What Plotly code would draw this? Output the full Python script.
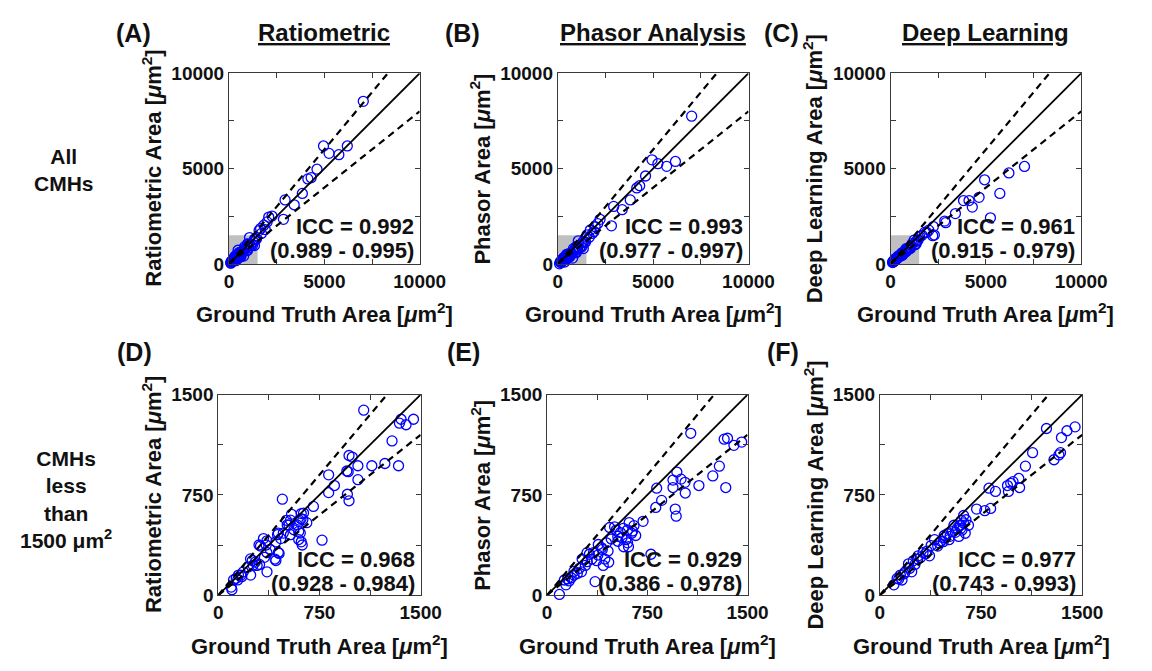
import plotly.graph_objects as go

# ---------------- data ----------------
# Bottom row: CMHs smaller than 1500 um^2
gt_low_ratio = [101, 96, 113, 133, 144, 150, 168, 174, 186, 222, 240, 239, 252, 258, 275, 288, 306, 302, 313, 335,
                342, 355, 360, 361, 361, 384, 420, 427, 427, 439, 445, 445, 451, 463, 475, 482, 505, 511, 524, 535,
                535, 543, 560, 584, 596, 596, 600, 608, 613, 615, 615, 622, 627, 632, 656, 705, 769, 818, 818, 861,
                953, 957, 963, 969, 969, 993, 1035, 1035, 1078, 1138, 1235, 1288, 1336, 1343, 1355, 1392, 1447]
ratio_low = [41, 60, 114, 126, 114, 150, 150, 138, 174, 210, 150, 271, 259, 223, 247, 222, 230, 375, 367, 423,
             283, 375, 319, 174, 406, 343, 270, 259, 399, 452, 319, 464, 312, 423, 718, 464, 560, 525, 524, 452,
             561, 605, 489, 525, 477, 416, 561, 464, 572, 399, 610, 375, 566, 614, 542, 664, 411, 767, 900, 820,
             929, 755, 924, 706, 1045, 1033, 968, 864, 1384, 968, 985, 1154, 968, 1287, 1316, 1275, 1316]

gt_low_phasor = [92, 129, 141, 153, 165, 201, 201, 226, 257, 262, 286, 299, 316, 335, 347, 359, 371, 383, 408, 413,
                 420, 432, 444, 456, 461, 468, 505, 517, 529, 529, 549, 573, 590, 602, 602, 609, 614, 633, 663, 718,
                 777, 813, 820, 857, 942, 942, 959, 966, 971, 1002, 1032, 1034, 1075, 1136, 1240, 1289, 1325, 1337,
                 1350, 1398, 1456, 480, 560, 640, 650, 570, 380, 300, 240, 180]
phasor_low = [5, 113, 77, 121, 106, 150, 178, 162, 174, 270, 222, 318, 306, 270, 318, 101, 258, 379, 354, 342,
              222, 270, 391, 330, 246, 506, 511, 487, 439, 403, 468, 362, 415, 487, 391, 362, 543, 463, 446, 552,
              306, 656, 800, 709, 805, 861, 644, 591, 921, 868, 844, 764, 1211, 820, 892, 965, 1167, 805,
              1174, 1121, 1145, 420, 430, 480, 520, 500, 300, 250, 200, 130]

gt_low_deep = [104, 128, 152, 164, 188, 212, 236, 248, 284, 320, 368, 380, 405, 429, 453, 477, 513, 537, 585, 597,
               604, 609, 621, 633, 638, 657, 717, 778, 809, 821, 857, 946, 953, 970, 987, 1030, 1036, 1079, 1132,
               1235, 1291, 1327, 1339, 1346, 1387, 1447, 549, 520, 470, 560, 575, 590, 300, 340, 260, 440,
               600, 620, 480, 500, 350, 280, 220, 180, 140]
deep_low = [77, 125, 150, 113, 174, 234, 174, 258, 294, 318, 294, 371, 415, 367, 403, 446, 415, 475, 439, 523,
            559, 487, 596, 463, 564, 523, 644, 632, 800, 649, 776, 820, 776, 837, 849, 873, 805, 965, 1066,
            1247, 1013, 1049, 1066, 1179, 1230, 1259, 523, 440, 400, 470, 500, 520, 280, 310, 230, 390,
            500, 540, 430, 460, 330, 270, 200, 160, 120]

# Top row: the extra large CMHs (above 1500 um^2)
gt_high_ratio = [7043, 4957, 5248, 5761, 6205, 4615, 4308, 4137, 3846, 2940, 3419, 2855, 2256, 2085, 2000, 1829,
                 1658, 1580, 1700, 1900]
ratio_high = [8525, 6186, 5797, 5729, 6186, 4966, 4525, 4458, 3695, 3356, 3102, 2339, 2508, 2458, 2203, 2034,
              1864, 1750, 1600, 1800]
gt_high_phasor = [7019, 4940, 5247, 5707, 6167, 4600, 4293, 4140, 3799, 2930, 3373, 2811, 2215, 2095, 1959, 1704,
                  1823, 1533, 1650, 1900]
phasor_high = [7746, 5458, 5254, 5119, 5373, 4610, 4102, 3983, 3356, 3017, 2847, 2000, 2339, 2119, 1949, 1780,
               1610, 1525, 1400, 1700]
gt_high_deep = [7024, 6207, 4932, 5731, 4643, 3827, 4116, 4286, 3401, 5238, 2891, 2840, 2245, 2211, 1786, 2007,
                2296, 1531, 1650, 1900]
deep_high = [5111, 4770, 4412, 3697, 3492, 3322, 3322, 2981, 2641, 2419, 2164, 2249, 1959, 1482, 1652, 1772,
             1516, 1431, 1500, 1650]

icc_values = ["0.992", "0.993", "0.961", "0.968", "0.929", "0.977"]
icc_ci = ["(0.989 - 0.995)", "(0.977 - 0.997)", "(0.915 - 0.979)",
          "(0.928 - 0.984)", "(0.386 - 0.978)", "(0.743 - 0.993)"]

method_names = ["Ratiometric", "Phasor Analysis", "Deep Learning"]
y_title_names = ["Ratiometric", "Phasor", "Deep Learning"]
panel_letters = ["(A)", "(B)", "(C)", "(D)", "(E)", "(F)"]

top_limit = 10000
top_label_ticks = [0, 5000, 10000]
top_minor_step = 2500
bottom_limit = 1500
bottom_label_ticks = [0, 750, 1500]
bottom_minor_step = 375
agreement_slopes = [1.2, 0.8]
zoom_box = 1500

# ---------------- layout helpers ----------------
OFF = 8                      # default page margin of the html body
W, H = 1152 - OFF, 671 - OFF
FONT = "Liberation Sans, Arial, sans-serif"
TXT = "#111111"
AX = "#3a3a3a"


def px(x):
    return (x - OFF) / W


def py(y):
    return 1 - (y - OFF) / H


def bold_font(size):
    return dict(family=FONT, size=size, color=TXT, weight="bold")


# pixel boxes on the screen (left, right, top, bottom)
boxes = [(230, 426, 65, 262), (568, 764, 65, 262), (910, 1106, 65, 262),
         (219, 427, 397, 604), (557, 763, 397, 604), (899, 1107, 397, 604)]

panel_x = [gt_low_ratio + gt_high_ratio, gt_low_phasor + gt_high_phasor, gt_low_deep + gt_high_deep,
           gt_low_ratio, gt_low_phasor, gt_low_deep]
panel_y = [ratio_low + ratio_high, phasor_low + phasor_high, deep_low + deep_high,
           ratio_low, phasor_low, deep_low]

fig = go.Figure()
annotations = []
shapes = []
unit = "[<i>μ</i>m<sup>2</sup>]"

for i in range(6):
    top = i < 3
    lim = top_limit if top else bottom_limit
    ticks = top_label_ticks if top else bottom_label_ticks
    minor_step = top_minor_step if top else bottom_minor_step
    xa = "x" if i == 0 else f"x{i + 1}"
    ya = "y" if i == 0 else f"y{i + 1}"
    l, r, t, b = boxes[i]

    axis_common = dict(range=[0, lim], tickmode="array", tickvals=ticks, ticktext=[str(v) for v in ticks],
                       ticks="inside", ticklen=5, tickcolor=AX, tickwidth=1,
                       minor=dict(ticks="inside", ticklen=5, tickcolor=AX, tickwidth=1,
                                  tickmode="linear", tick0=0, dtick=minor_step),
                       showline=True, linecolor=AX, linewidth=1, mirror="ticks",
                       showgrid=False, zeroline=False, fixedrange=True,
                       tickfont=bold_font(19))
    fig.layout[("xaxis" if i == 0 else f"xaxis{i + 1}")] = dict(domain=[px(l), px(r)], anchor=ya, **axis_common)
    fig.layout[("yaxis" if i == 0 else f"yaxis{i + 1}")] = dict(domain=[py(b), py(t)], anchor=xa, **axis_common)

    if top:
        shapes.append(dict(type="rect", xref=xa, yref=ya, x0=0, y0=0, x1=zoom_box, y1=zoom_box,
                           fillcolor="#c0c0c0", line=dict(width=0), layer="below"))

    # scatter
    fig.add_trace(go.Scatter(x=panel_x[i], y=panel_y[i], mode="markers", xaxis=xa, yaxis=ya,
                             marker=dict(symbol="circle-open", size=10, color="#0000ff", line=dict(width=1.3)),
                             cliponaxis=False, showlegend=False, hoverinfo="skip"))
    # identity line
    fig.add_trace(go.Scatter(x=[0, lim], y=[0, lim], mode="lines", xaxis=xa, yaxis=ya,
                             line=dict(color="black", width=1.8), showlegend=False, hoverinfo="skip"))
    # agreement lines
    for s in agreement_slopes:
        xe = lim / s if s > 1 else lim
        fig.add_trace(go.Scatter(x=[0, xe], y=[0, xe * s], mode="lines", xaxis=xa, yaxis=ya,
                                 line=dict(color="black", width=2.2, dash="7px,5px"),
                                 showlegend=False, hoverinfo="skip"))

    # ICC text
    bh = b - t
    y1 = b - (0.195 if top else 0.179) * bh
    y2 = b - (0.068 if top else 0.058) * bh
    annotations.append(dict(x=px(r - 4), y=py(y1), xref="paper", yref="paper", xanchor="right", yanchor="middle",
                            text=f"ICC = {icc_values[i]}", showarrow=False, font=bold_font(22)))
    annotations.append(dict(x=px(r - 4), y=py(y2), xref="paper", yref="paper", xanchor="right", yanchor="middle",
                            text=icc_ci[i], showarrow=False, font=bold_font(22)))

    # axis titles
    xt_y = b + 51
    annotations.append(dict(x=px((l + r) / 2), y=py(xt_y), xref="paper", yref="paper", xanchor="center",
                            yanchor="middle", text=f"Ground Truth Area {unit}", showarrow=False,
                            font=bold_font(22)))
    yt_x = l - (80 if top else 68)
    annotations.append(dict(x=px(yt_x), y=py((t + b) / 2), xref="paper", yref="paper", xanchor="center",
                            yanchor="middle", textangle=-90,
                            text=f"{y_title_names[i % 3]} Area {unit}", showarrow=False,
                            font=bold_font(22)))

    # panel letter, up-left of the y title (further left when the title is long)
    shift = 32 if i % 3 == 2 else 18
    annotations.append(dict(x=px(yt_x - shift), y=py(23 if top else 353), xref="paper", yref="paper",
                            xanchor="center", yanchor="middle", text=panel_letters[i],
                            showarrow=False, font=bold_font(25)))

# column headers
for name, box in zip(method_names, boxes[:3]):
    annotations.append(dict(x=px((box[0] + box[1]) / 2), y=py(23), xref="paper", yref="paper", xanchor="center",
                            yanchor="middle", text=f"<u>{name}</u>", showarrow=False, font=bold_font(24)))

# row labels
annotations.append(dict(x=px(60), y=py(165), xref="paper", yref="paper", xanchor="center", yanchor="middle",
                        text="All<br>CMHs", showarrow=False, font=bold_font(21)))
annotations.append(dict(x=px(62), y=py(505), xref="paper", yref="paper", xanchor="center", yanchor="middle",
                        text="CMHs<br>less<br>than<br>1500 μm<sup>2</sup>", showarrow=False,
                        font=bold_font(21)))

fig.update_layout(width=W, height=H, margin=dict(l=0, r=0, t=0, b=0), paper_bgcolor="white",
                  plot_bgcolor="white", annotations=annotations, shapes=shapes, showlegend=False)

fig.write_html("out.html")
